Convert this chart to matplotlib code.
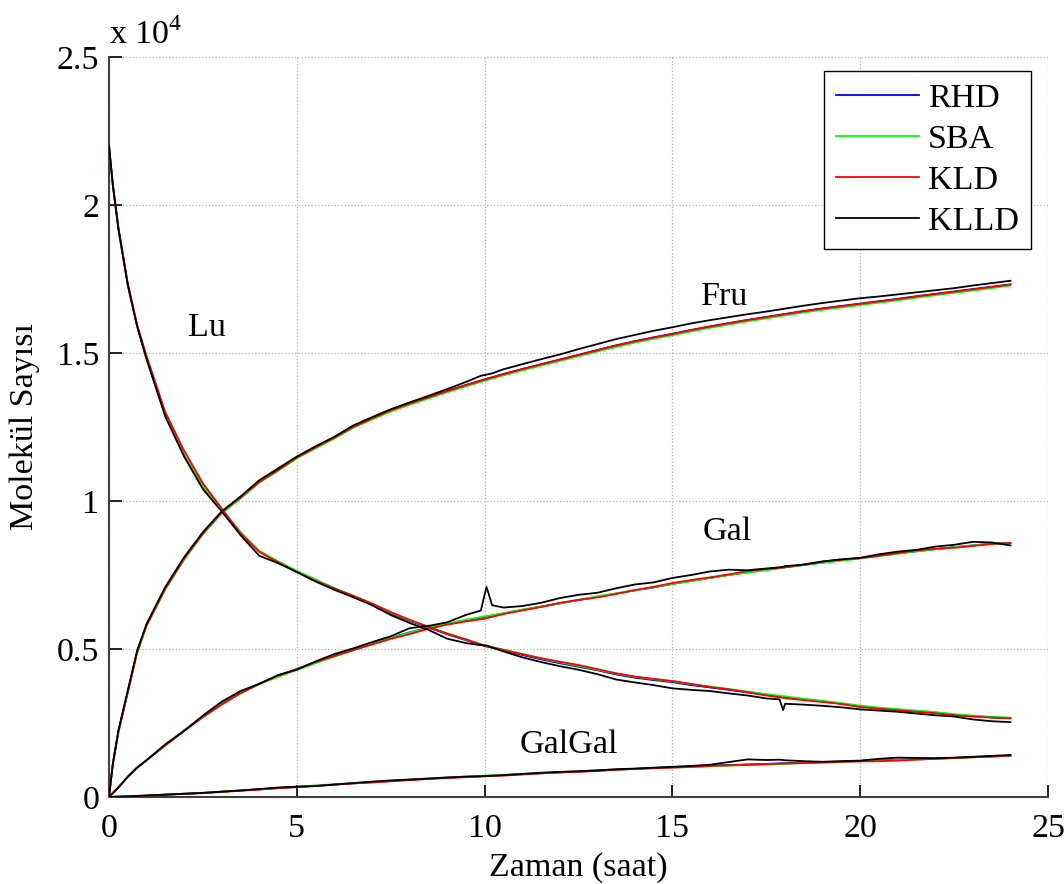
import matplotlib
matplotlib.use("Agg")
import matplotlib.pyplot as plt

# ---------------- data ----------------
T = [0, 0.1, 0.25, 0.5, 0.75, 1.0, 1.5, 2.0, 2.5, 3.0, 3.5, 4.0, 4.5, 5.0, 5.5, 6.0,
     6.5, 7.0, 7.5, 8.0, 8.5, 9.0, 9.5, 10.0, 10.5, 11.0, 11.5, 12.0, 12.5, 13.0,
     13.5, 14.0, 14.5, 15.0, 15.5, 16.0, 16.5, 17.0, 17.5, 18.0, 18.5, 19.0, 19.5,
     20.0, 20.5, 21.0, 21.5, 22.0, 22.5, 23.0, 23.5, 24.0]

T_KLLD = [0, 0.1, 0.25, 0.5, 0.75, 1.0, 1.5, 2.0, 2.5, 3.0, 3.5, 4.0, 4.5, 5.0, 5.5,
          6.0, 6.5, 7.0, 7.5, 8.0, 8.5, 9.0, 9.5, 9.9, 10.05, 10.2, 10.5, 11.0, 11.5,
          12.0, 12.5, 13.0, 13.5, 14.0, 14.5, 15.0, 15.5, 16.0, 16.5, 17.0, 17.5,
          17.85, 17.95, 18.0, 18.5, 19.0, 19.5, 20.0, 20.5, 21.0, 21.5, 22.0, 22.5,
          23.0, 23.5, 24.0]

# RHD
RHD_Lu = [22000, 20700, 19200, 17300, 15900, 14800, 12900, 11550, 10500, 9700, 8950, 8300,
          7950, 7620, 7330, 7050, 6780, 6500, 6200, 5950, 5730, 5500, 5300, 5100, 4950, 4800,
          4650, 4520, 4400, 4280, 4140, 4030, 3950, 3880, 3780, 3700, 3620, 3530, 3450, 3370,
          3300, 3230, 3150, 3060, 3000, 2950, 2900, 2850, 2780, 2730, 2690, 2660]
RHD_Fru = [0, 1100, 2200, 3550, 4900, 5800, 7050, 8050, 8900, 9600, 10100, 10650, 11050,
           11480, 11820, 12150, 12520, 12800, 13070, 13300, 13510, 13720, 13920, 14110,
           14290, 14460, 14620, 14780, 14940, 15100, 15260, 15400, 15530, 15650, 15780,
           15900, 16010, 16120, 16220, 16320, 16420, 16510, 16590, 16670, 16750, 16830,
           16920, 17000, 17080, 17160, 17240, 17320]
RHD_Gal = [0, 130, 330, 680, 990, 1250, 1760, 2250, 2720, 3150, 3530, 3830, 4090, 4320,
           4550, 4770, 4980, 5180, 5380, 5560, 5720, 5850, 5970, 6080, 6200, 6320, 6430,
           6540, 6650, 6760, 6870, 6980, 7080, 7200, 7300, 7400, 7500, 7590, 7680, 7760,
           7840, 7920, 8000, 8070, 8150, 8230, 8300, 8370, 8440, 8500, 8560, 8580]
RHD_GalGal = [0, 5, 10, 20, 35, 50, 80, 110, 140, 180, 220, 260, 300, 340, 380, 420, 460,
              500, 540, 580, 620, 650, 680, 710, 740, 770, 800, 830, 860, 890, 920, 950,
              980, 1010, 1030, 1060, 1080, 1100, 1120, 1140, 1160, 1180, 1200, 1220, 1240,
              1260, 1280, 1300, 1320, 1350, 1370, 1400]

# SBA
SBA_Lu = [22000, 20700, 19200, 17300, 15900, 14800, 12900, 11550, 10500, 9680, 8950, 8320,
          7960, 7640, 7350, 7060, 6800, 6520, 6230, 5970, 5750, 5530, 5320, 5130, 4980, 4830,
          4680, 4550, 4430, 4300, 4170, 4060, 3980, 3910, 3810, 3730, 3650, 3560, 3480, 3400,
          3320, 3250, 3170, 3090, 3020, 2970, 2920, 2870, 2800, 2750, 2710, 2680]
SBA_Fru = [0, 1100, 2200, 3550, 4880, 5780, 7020, 8020, 8880, 9580, 10080, 10620, 11020,
           11440, 11780, 12110, 12470, 12750, 13020, 13250, 13460, 13670, 13870, 14060,
           14240, 14410, 14570, 14730, 14890, 15050, 15200, 15350, 15480, 15600, 15730,
           15850, 15960, 16070, 16170, 16270, 16370, 16460, 16540, 16620, 16700, 16780,
           16870, 16950, 17030, 17110, 17190, 17280]
SBA_Gal = [0, 130, 330, 680, 990, 1250, 1760, 2240, 2700, 3130, 3510, 3810, 4060, 4290,
           4520, 4740, 4960, 5170, 5370, 5550, 5710, 5860, 5990, 6100, 6210, 6330, 6430,
           6540, 6660, 6780, 6880, 6980, 7090, 7200, 7290, 7400, 7500, 7580, 7660, 7760,
           7840, 7910, 7980, 8060, 8140, 8220, 8300, 8370, 8440, 8500, 8550, 8580]
SBA_GalGal = [0, 5, 10, 20, 35, 50, 80, 110, 140, 180, 220, 260, 300, 350, 390, 430, 470,
              510, 550, 590, 630, 660, 690, 720, 750, 780, 810, 840, 870, 900, 930, 950,
              980, 1000, 1010, 1040, 1060, 1080, 1100, 1120, 1140, 1160, 1180, 1210, 1230,
              1250, 1270, 1290, 1310, 1340, 1360, 1400]

# KLD
KLD_Lu = [22000, 20700, 19250, 17350, 15950, 14900, 13000, 11700, 10600, 9750, 8900, 8280,
          7930, 7600, 7300, 7040, 6800, 6540, 6250, 5990, 5750, 5520, 5330, 5110, 4970, 4830,
          4690, 4570, 4460, 4320, 4180, 4070, 3990, 3920, 3820, 3720, 3640, 3540, 3430, 3340,
          3270, 3210, 3140, 3040, 2980, 2930, 2880, 2830, 2760, 2720, 2680, 2660]
KLD_Fru = [0, 1100, 2200, 3540, 4900, 5800, 7040, 8050, 8900, 9620, 10120, 10640, 11040,
           11470, 11810, 12140, 12500, 12790, 13060, 13290, 13500, 13710, 13910, 14100,
           14280, 14450, 14610, 14770, 14930, 15090, 15250, 15390, 15520, 15640, 15770,
           15890, 16000, 16110, 16210, 16310, 16410, 16500, 16580, 16660, 16740, 16820,
           16910, 16990, 17070, 17150, 17230, 17310]
KLD_Gal = [0, 130, 320, 670, 980, 1240, 1740, 2230, 2700, 3120, 3500, 3820, 4100, 4320,
           4560, 4760, 4960, 5150, 5340, 5500, 5680, 5820, 5930, 6020, 6180, 6300, 6420,
           6560, 6660, 6740, 6860, 6990, 7100, 7230, 7330, 7420, 7520, 7640, 7700, 7760,
           7860, 7950, 8020, 8070, 8150, 8240, 8330, 8390, 8420, 8480, 8550, 8580]
KLD_GalGal = [0, 5, 10, 20, 30, 45, 75, 100, 130, 170, 210, 250, 300, 330, 370, 420, 460,
              490, 530, 570, 610, 640, 670, 700, 720, 760, 800, 830, 850, 880, 920, 950,
              970, 990, 1020, 1050, 1070, 1090, 1110, 1130, 1150, 1170, 1190, 1200, 1210,
              1230, 1260, 1290, 1320, 1340, 1370, 1400]

# KLLD (own time grid, includes the spikes)
KLLD_Lu = [22000, 20700, 19200, 17300, 15900, 14800, 12850, 11500, 10400, 9650, 8850, 8150,
           7900, 7600, 7280, 7000, 6750, 6480, 6150, 5880, 5650, 5350, 5200, 5130, 5120,
           5050, 4920, 4720, 4560, 4420, 4300, 4150, 3970, 3870, 3780, 3670, 3620, 3580,
           3500, 3430, 3330, 3300, 2940, 3150, 3120, 3080, 3030, 2960, 2920, 2880, 2820,
           2760, 2720, 2620, 2560, 2530]
KLLD_Fru = [0, 1100, 2250, 3600, 4950, 5850, 7100, 8100, 8950, 9650, 10150, 10700, 11100,
            11500, 11850, 12170, 12550, 12830, 13100, 13330, 13550, 13780, 14020, 14230,
            14270, 14310, 14450, 14620, 14790, 14950, 15130, 15300, 15470, 15610, 15750,
            15870, 16000, 16110, 16210, 16310, 16400, 16470, 16490, 16500, 16600, 16690,
            16770, 16850, 16910, 16980, 17050, 17120, 17190, 17280, 17360, 17440]
KLLD_Gal = [0, 130, 320, 690, 1000, 1240, 1780, 2230, 2750, 3220, 3580, 3820, 4120, 4300,
            4580, 4830, 5020, 5230, 5430, 5700, 5780, 5900, 6150, 6300, 7100, 6480, 6400,
            6450, 6560, 6720, 6830, 6900, 7050, 7180, 7250, 7400, 7500, 7620, 7680, 7660,
            7720, 7760, 7780, 7800, 7850, 7960, 8030, 8080, 8200, 8290, 8350, 8460, 8520,
            8620, 8600, 8500]
KLLD_GalGal = [0, 5, 10, 20, 35, 50, 80, 110, 140, 180, 220, 270, 320, 350, 370, 420, 470,
               520, 560, 590, 620, 660, 690, 700, 710, 720, 740, 780, 820, 850, 870, 900,
               940, 960, 990, 1020, 1050, 1090, 1180, 1270, 1250, 1260, 1250, 1240, 1210,
               1190, 1210, 1230, 1290, 1330, 1320, 1310, 1330, 1360, 1390, 1420]

methods = ["RHD", "SBA", "KLD", "KLLD"]
colors = ["#0000ff", "#00ff00", "#ff0000", "#000000"]
series = {
    "RHD": (T, [RHD_Lu, RHD_Fru, RHD_Gal, RHD_GalGal]),
    "SBA": (T, [SBA_Lu, SBA_Fru, SBA_Gal, SBA_GalGal]),
    "KLD": (T, [KLD_Lu, KLD_Fru, KLD_Gal, KLD_GalGal]),
    "KLLD": (T_KLLD, [KLLD_Lu, KLLD_Fru, KLLD_Gal, KLLD_GalGal]),
}

x_ticks = [0, 5, 10, 15, 20, 25]
y_ticks = [0, 5000, 10000, 15000, 20000, 25000]
y_tick_labels = ["0", "0.5", "1", "1.5", "2", "2.5"]

species_labels = ["Lu", "Fru", "Gal", "GalGal"]
species_label_pos = [(2.6, 15850), (16.4, 16900), (16.45, 8950), (12.25, 1760)]

# ---------------- plot ----------------
plt.rcParams["font.family"] = ["Liberation Serif", "DejaVu Serif"]
plt.rcParams["mathtext.fontset"] = "custom"
plt.rcParams["mathtext.rm"] = "Liberation Serif"
FS = 24.5

fig = plt.figure(figsize=(10.64, 8.84), dpi=100)
ax = fig.add_axes([109 / 1064, 1 - 797 / 884, 939 / 1064, 740 / 884])

for m, c in zip(methods, colors):
    t, curves = series[m]
    for i, y in enumerate(curves):
        ax.plot(t, y, color=c, lw=1.3, label=m if i == 0 else None, zorder=3)

for lab, (x, y) in zip(species_labels, species_label_pos):
    ax.text(x, y, lab, fontsize=FS, ha="center", va="center", zorder=4)

ax.set_xlim(0, 25)
ax.set_ylim(0, 25000)
ax.set_xticks(x_ticks)
ax.set_xticklabels([str(v) for v in x_ticks])
ax.set_yticks(y_ticks)
ax.set_yticklabels(y_tick_labels)
ax.tick_params(direction="in", length=9, width=1.2, labelsize=FS, colors="#000000",
               top=False, right=False)
ax.tick_params(axis="x", pad=12)
ax.tick_params(axis="y", pad=7)
ax.grid(True, linestyle=":", color="#b0b0b0", linewidth=0.9)
ax.set_axisbelow(True)
for s in ["top", "right"]:
    ax.spines[s].set_visible(False)
for s in ["left", "bottom"]:
    ax.spines[s].set_color("#404040")
    ax.spines[s].set_linewidth(1.5)

ax.set_xlabel("Zaman (saat)", fontsize=FS, labelpad=6)
ax.set_ylabel("Molekül Sayısı", fontsize=FS, labelpad=12)

ax.text(0.0, 1.008, "x 10$^{4}$", transform=ax.transAxes, fontsize=FS,
        ha="left", va="bottom")

leg = ax.legend(loc="upper right", bbox_to_anchor=(0.982, 0.981), borderaxespad=0,
                fontsize=FS, frameon=True, fancybox=False, framealpha=1,
                edgecolor="#000000", handlelength=2.45, handletextpad=0.27,
                labelspacing=0.3, borderpad=0.35)
leg.get_frame().set_linewidth(1.0)
for line in leg.get_lines():
    line.set_linewidth(1.3)

fig.savefig("out.png", dpi=100)
